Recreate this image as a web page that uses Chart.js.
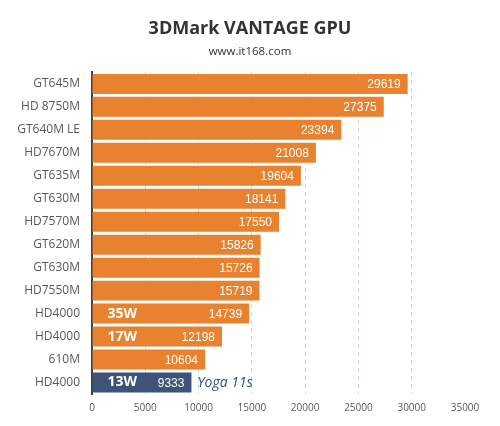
<!DOCTYPE html>
<html>
<head>
<meta charset="utf-8">
<script src="https://cdn.jsdelivr.net/npm/chart.js@4/dist/chart.umd.min.js"></script>
<style>
  html, body { margin: 0; padding: 0; background: #fff; }
  #wrap { width: 500px; height: 426px; }
</style>
</head>
<body>
<div id="wrap"><canvas id="myChart" width="500" height="426"></canvas></div>
<script>
const categories = ['GT645M', 'HD 8750M', 'GT640M LE', 'HD7670M', 'GT635M', 'GT630M', 'HD7570M',
    'GT620M', 'GT630M', 'HD7550M', 'HD4000', 'HD4000', '610M', 'HD4000']
const scores = [29619, 27375, 23394, 21008, 19604, 18141, 17550, 15826, 15726, 15719, 14739, 12198, 10604, 9333]
const wattNotes = ['', '', '', '', '', '', '', '', '', '', '35W', '17W', '', '13W']
const highlight = 'Yoga 11s'
const xTicks = [0, 5000, 10000, 15000, 20000, 25000, 30000, 35000]

const orange = '#e8822f'
const navy = '#3d5478'
const barColors = scores.map((v, i) => i === scores.length - 1 ? navy : orange)

// labels on the bars: score near the end, watts at the start, note after the last bar
const barLabels = {
    id: 'barLabels',
    afterDatasetsDraw(chart) {
        const ctx = chart.ctx
        const meta = chart.getDatasetMeta(0)
        ctx.save()
        ctx.textBaseline = 'middle'
        meta.data.forEach((bar, i) => {
            ctx.fillStyle = '#fff'
            ctx.textAlign = 'right'
            ctx.font = '12px "Liberation Sans", Arial, sans-serif'
            ctx.fillText(scores[i], bar.x - 7, bar.y + 1)
            if (wattNotes[i]) {
                ctx.textAlign = 'left'
                ctx.font = 'bold 14px "Open Sans", sans-serif'
                ctx.fillText(wattNotes[i], bar.base + 15, bar.y)
            }
            if (i === meta.data.length - 1) {
                ctx.textAlign = 'left'
                ctx.fillStyle = '#2f4f80'
                ctx.font = 'italic 14px "Open Sans", sans-serif'
                ctx.fillText(highlight, bar.x + 6, bar.y + 1)
            }
        })
        ctx.restore()
    }
}

const ctx = document.getElementById('myChart').getContext('2d')
const chart = new Chart(ctx, {
    type: 'bar',
    data: {
        labels: categories,
        datasets: [{
            data: scores,
            backgroundColor: barColors,
            borderWidth: 0,
            barPercentage: 0.87,
            categoryPercentage: 1
        }]
    },
    plugins: [barLabels],
    options: {
        indexAxis: 'y',
        responsive: false,
        animation: false,
        layout: { padding: { left: 0, right: 0, top: 0, bottom: 4 } },
        plugins: {
            legend: { display: false },
            tooltip: { enabled: false },
            title: {
                display: true,
                text: '3DMark VANTAGE GPU',
                color: '#333',
                font: { family: '"Open Sans", sans-serif', size: 18, weight: 'bold' },
                padding: { top: 18, bottom: 5 }
            },
            subtitle: {
                display: true,
                text: 'www.it168.com',
                color: '#333',
                font: { family: '"Open Sans", sans-serif', size: 11.5 },
                padding: { top: 0, bottom: 14 }
            }
        },
        scales: {
            x: {
                min: 0,
                max: 35000,
                afterBuildTicks: (scale) => { scale.ticks = xTicks.map(v => ({ value: v })) },
                afterFit: (scale) => { scale.paddingRight = 35 },
                grid: {
                    color: (c) => c.tick && c.tick.value === 35000 ? 'rgba(0,0,0,0)' : '#c3d2e4',
                    drawTicks: false
                },
                border: { display: false, dash: [4, 4] },
                ticks: {
                    color: '#595959',
                    padding: 8,
                    callback: (v) => String(v),
                    font: { family: '"Open Sans", sans-serif', size: 10 }
                }
            },
            y: {
                afterFit: (scale) => { scale.width = 92 },
                grid: { display: false, drawTicks: false },
                border: { color: '#404040', width: 2 },
                ticks: {
                    color: '#595959',
                    padding: 12,
                    font: { family: '"Open Sans", sans-serif', size: 12 }
                }
            }
        }
    }
})
</script>
</body>
</html>
